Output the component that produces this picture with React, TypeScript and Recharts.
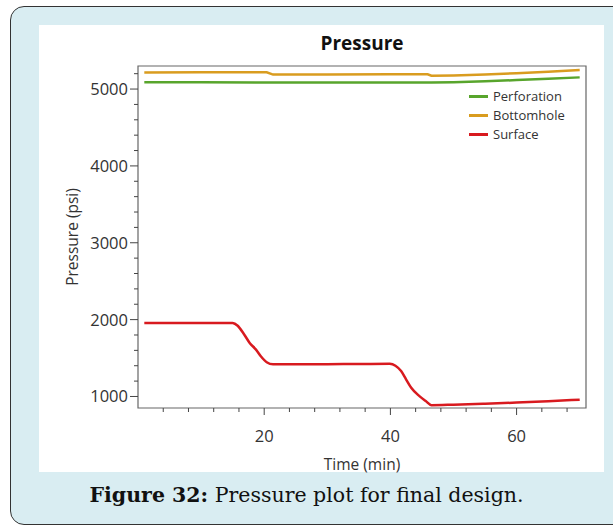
import React from "react";
import { LineChart, Line, XAxis, YAxis, ReferenceArea } from "recharts";

const seriesNames = ["Perforation", "Bottomhole", "Surface"];
const seriesColors = ["#58a52c", "#d99c1f", "#d81a1f"];

const perforationTime = [1, 10, 20, 30, 40, 46.5, 50, 55, 60, 65, 70];
const perforationValues = [5087, 5087, 5086, 5084, 5084, 5084, 5090, 5102, 5117, 5133, 5152];

const bottomholeTime = [1, 10, 20.4, 21.4, 30, 40, 45.9, 46.5, 50, 55, 60, 65, 70];
const bottomholeValues = [5217, 5218, 5218, 5188, 5190, 5192, 5192, 5173, 5178, 5190, 5205, 5225, 5247];

const surfaceTime = [1, 15, 15.8, 16.8, 17.7, 18.7, 19.5, 20.4, 21.4, 25, 30, 35, 39.9, 40.8, 41.7, 42.5, 43.3, 44.6, 45.6, 46.5, 50, 55, 60, 65, 70];
const surfaceValues = [1957, 1957, 1920, 1810, 1697, 1610, 1520, 1445, 1418, 1418, 1420, 1422, 1425, 1400, 1330, 1220, 1113, 1004, 940, 887, 893, 905, 920, 938, 958];

const xTicks = [4, 8, 12, 16, 20, 24, 28, 32, 36, 40, 44, 48, 52, 56, 60, 64, 68];
const xLabels = [20, 40, 60];
const yTicks = [1000, 1200, 1400, 1600, 1800, 2000, 2200, 2400, 2600, 2800, 3000, 3200, 3400, 3600, 3800, 4000, 4200, 4400, 4600, 4800, 5000, 5200];
const yLabels = [1000, 2000, 3000, 4000, 5000];

const toRows = (t: number[], v: number[]) => t.map((time, i) => ({ time, value: v[i] }));

const FONT = "'Open Sans', 'Noto Sans', sans-serif";

const XTick = (props: any) => {
  const { x, y, payload } = props;
  const major = xLabels.includes(payload.value);
  return (
    <g>
      <line x1={x} x2={x} y1={y} y2={y + (major ? 7 : 4)} stroke="#444" strokeWidth={1} />
      {major && (
        <text x={x} y={y + 34} textAnchor="middle" fill="#333" fontSize={16.5} fontFamily={FONT}>
          {payload.value}
        </text>
      )}
    </g>
  );
};

const YTick = (props: any) => {
  const { x, y, payload } = props;
  const major = yLabels.includes(payload.value);
  return (
    <g>
      <line x1={x} x2={x - (major ? 8 : 4)} y1={y} y2={y} stroke="#444" strokeWidth={1} />
      {major && (
        <text x={x - 10} y={y + 6} textAnchor="end" fill="#333" fontSize={16.5} fontFamily={FONT}>
          {payload.value}
        </text>
      )}
    </g>
  );
};

export default function App() {
  return (
    <div style={{ position: "absolute", left: 0, top: 0, width: 613, height: 527, background: "#fff", overflow: "hidden" }}>
      <div
        style={{
          position: "absolute",
          left: 10,
          top: 6,
          width: 640,
          height: 517,
          border: "1.5px solid #333",
          borderRadius: 14,
          background: "#d9edf2",
        }}
      />
      <div style={{ position: "absolute", left: 39, top: 25, width: 565, height: 447, background: "#fff" }} />
      <div
        style={{
          position: "absolute",
          left: 138,
          width: 448,
          top: 30,
          textAlign: "center",
          fontFamily: FONT,
          fontWeight: 700,
          fontSize: 19,
          color: "#111",
        }}
      >
        Pressure
      </div>
      <div style={{ position: "absolute", left: 0, top: 0 }}>
        <LineChart width={613} height={527} margin={{ top: 66, right: 27, bottom: 0, left: 0 }}>
          <XAxis
            dataKey="time"
            type="number"
            domain={[0, 71]}
            ticks={xTicks}
            interval={0}
            tick={<XTick />}
            tickLine={false}
            tickSize={0}
            tickMargin={0}
            axisLine={false}
            height={119}
            allowDataOverflow
            label={{ value: "Time (min)", position: "center", dy: -3, fill: "#333", fontSize: 15.5, fontFamily: FONT }}
          />
          <YAxis
            type="number"
            domain={[850, 5300]}
            ticks={yTicks}
            interval={0}
            tick={<YTick />}
            tickLine={false}
            tickSize={0}
            tickMargin={0}
            axisLine={false}
            width={138}
            allowDataOverflow
            label={{ value: "Pressure (psi)", position: "center", angle: -90, dx: 3, fill: "#333", fontSize: 15.5, fontFamily: FONT }}
          />
          <ReferenceArea x1={0} x2={71} y1={850} y2={5300} fill="none" stroke="#666" strokeWidth={1.2} />
          <Line
            data={toRows(perforationTime, perforationValues)}
            dataKey="value"
            name={seriesNames[0]}
            type="linear"
            stroke={seriesColors[0]}
            strokeWidth={2.5}
            dot={false}
            isAnimationActive={false}
          />
          <Line
            data={toRows(bottomholeTime, bottomholeValues)}
            dataKey="value"
            name={seriesNames[1]}
            type="linear"
            stroke={seriesColors[1]}
            strokeWidth={2.5}
            dot={false}
            isAnimationActive={false}
          />
          <Line
            data={toRows(surfaceTime, surfaceValues)}
            dataKey="value"
            name={seriesNames[2]}
            type="monotone"
            stroke={seriesColors[2]}
            strokeWidth={2.5}
            dot={false}
            isAnimationActive={false}
          />
        </LineChart>
      </div>
      <div
        style={{
          position: "absolute",
          left: 469,
          top: 87,
          fontFamily: FONT,
          fontSize: 13,
          color: "#333",
          lineHeight: "19px",
        }}
      >
        {seriesNames.map((name, i) => (
          <div key={name} style={{ display: "flex", alignItems: "center" }}>
            <span style={{ display: "inline-block", width: 19, height: 2.5, background: seriesColors[i], marginRight: 5 }} />
            {name}
          </div>
        ))}
      </div>
      <div
        style={{
          position: "absolute",
          left: 0,
          width: 613,
          top: 483,
          textAlign: "center",
          fontFamily: "'DejaVu Serif', serif",
          fontSize: 20.5,
          color: "#111",
        }}
      >
        <b>Figure 32:</b> Pressure plot for final design.
      </div>
    </div>
  );
}
